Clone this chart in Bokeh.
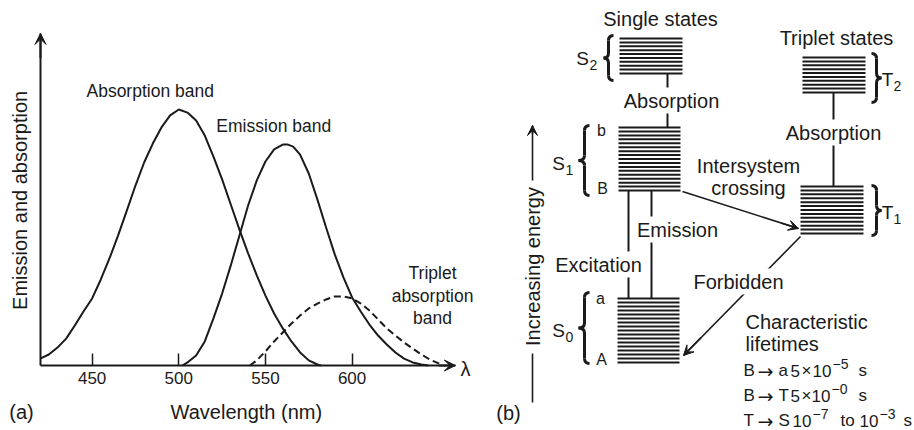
import numpy as np
from bokeh.plotting import figure
from bokeh.layouts import row
from bokeh.models import Range1d, Arrow, VeeHead, FixedTicker
from bokeh.core.properties import value
from bokeh.embed import file_html
from bokeh.resources import INLINE

# ---------------- data (panel a) ----------------
wl_absorption = [420, 425, 430, 435, 440, 445, 450, 455, 460, 465, 470, 475, 480, 485,
                 490, 495, 500, 505, 510, 515, 520, 525, 530, 535, 540, 545, 550, 555,
                 560, 565, 570, 575, 580, 582]
absorption = [2.7, 4.3, 7.0, 10.5, 15.6, 21.1, 26.2, 33.6, 41.8, 50.8, 60.5, 70.3, 79.3, 86.7,
              93.0, 97.7, 100.0, 98.8, 95.7, 89.8, 81.6, 72.7, 62.9, 53.1, 43.8, 35.2, 27.3, 20.3,
              14.5, 9.4, 5.1, 2.0, 0.4, 0.0]

wl_emission = [502, 505, 510, 515, 520, 525, 530, 535, 540, 545, 550, 555, 560, 563, 566,
               570, 575, 580, 585, 590, 595, 600, 605, 610, 615, 620, 625, 630, 635, 640, 644]
emission = [0.0, 1.2, 3.9, 9.4, 18.4, 28.1, 39.1, 50.8, 62.5, 72.3, 79.7, 84.4, 86.3, 86.3, 85.5,
            82.4, 75.0, 64.8, 53.9, 43.4, 34.4, 26.6, 21.1, 16.0, 11.7, 8.2, 5.1, 2.7, 1.2, 0.4, 0.0]

wl_triplet = [541, 545, 550, 555, 560, 565, 570, 575, 580, 585, 590, 595, 600, 605, 610,
              615, 620, 625, 630, 635, 640, 645, 650, 652]
triplet = [0.0, 2.0, 5.5, 9.4, 12.9, 16.4, 19.5, 22.3, 24.2, 25.8, 27.0, 27.0, 26.2, 24.2, 21.5,
           18.0, 14.5, 11.7, 9.0, 6.6, 4.3, 2.3, 0.8, 0.0]

x_ticks = [450, 500, 550, 600]

# ---------------- texts (panel b): characteristic lifetimes ----------------
lifetime_from = ["B", "B", "T"]
lifetime_to = ["a", "T", "S"]
lifetime_values = [["5", "\u00d7", "10", "\u22125", "s"],
                   ["5", "\u00d7", "10", "\u22120", "s"],
                   ["10", "\u22127", "to", "10", "\u22123", "s"]]

FONT = "Liberation Sans"
INK = "#1a1a1a"

# ================= panel (a) =================
PX_PER_NM = 1.733
PX_PER_UNIT = 2.56
AX0 = 420.2                      # wavelength where the axes cross
XL = AX0 - 40 / PX_PER_NM        # left edge of the panel
XR = AX0 + 440 / PX_PER_NM       # right edge of the panel
YB = -(430 - 365) / PX_PER_UNIT  # bottom edge of the panel
YT = 365 / PX_PER_UNIT           # top edge of the panel

p1 = figure(width=480, height=430, x_range=Range1d(XL, XR), y_range=Range1d(YB, YT),
            output_backend="svg", toolbar_location=None, min_border=0)
p1.outline_line_color = None
p1.grid.visible = False

xa = p1.xaxis[0]
xa.fixed_location = 0
xa.ticker = FixedTicker(ticks=x_ticks)
xa.minor_tick_line_color = None
xa.major_tick_in = 12
xa.major_tick_out = 0
xa.major_tick_line_width = 1.5
xa.major_tick_line_color = INK
xa.axis_line_width = 2
xa.axis_line_color = INK
xa.bounds = (AX0, 659.6)
xa.major_label_text_font = FONT
xa.major_label_text_font_size = "17px"
xa.major_label_text_color = INK
xa.major_label_standoff = 6

ya = p1.yaxis[0]
ya.fixed_location = AX0
ya.ticker = FixedTicker(ticks=[])
ya.minor_tick_line_color = None
ya.major_tick_line_color = None
ya.axis_line_width = 2
ya.axis_line_color = INK
ya.bounds = (0, 129.7)

p1.add_layout(Arrow(end=VeeHead(size=11, fill_color=INK, line_color=INK, line_width=1),
                    x_start=AX0, y_start=120, x_end=AX0, y_end=129.7,
                    line_color=INK, line_width=2))
p1.add_layout(Arrow(end=VeeHead(size=11, fill_color=INK, line_color=INK, line_width=1),
                    x_start=650, y_start=0, x_end=659.6, y_end=0,
                    line_color=INK, line_width=2))

p1.line(wl_absorption, absorption, line_width=2, line_color=INK)
p1.line(wl_emission, emission, line_width=2, line_color=INK)
p1.line(wl_triplet, triplet, line_width=2, line_color=INK, line_dash="7 4")

p1.text(x=[483.5, 554.8, 646.4, 646.4, 646.4], y=[107.4, 93.4, 36.1, 27.3, 18.6],
        text=["Absorption band", "Emission band", "Triplet", "absorption", "band"],
        text_font=value(FONT), text_font_size="17.5px", text_color=INK,
        text_align="center", text_baseline="middle")

# axis titles, panel tag and lambda
p1.text(x=[539.0, 409.2, 665.4], y=[-18.2, -18.0, -1.2],
        text=["Wavelength (nm)", "(a)", "\u03bb"],
        text_font=value(FONT), text_font_size="20px", text_color=INK,
        text_align="center", text_baseline="middle")
p1.text(x=[408.6], y=[64.5], text=["Emission and absorption"], angle=np.pi / 2,
        text_font=value(FONT), text_font_size="20px", text_color=INK,
        text_align="center", text_baseline="middle")

# ================= panel (b) =================
# frame covers page x 480..914, y 0..430; y grows downwards
p2 = figure(width=434, height=430, x_range=Range1d(480, 914), y_range=Range1d(430, 0),
            output_backend="svg", toolbar_location=None,
            x_axis_location=None, y_axis_location=None, min_border=0)
p2.outline_line_color = None
p2.grid.visible = False

# energy-level blocks: x_left, x_right, y_top, y_bottom, number of levels
blocks = [(619, 682, 38, 73, 10),    # S2
          (618, 680, 127, 190, 17),  # S1
          (617, 679, 298, 362, 17),  # S0
          (802, 865, 57, 92, 10),    # T2
          (800, 863, 186, 233, 13)]  # T1
for xl, xr, yt, yb, n in blocks:
    ys = np.linspace(yt, yb, n)
    p2.segment(x0=[xl] * n, y0=ys, x1=[xr] * n, y1=ys, line_width=2, line_color=INK)

# vertical transitions and energy axis line (gap for its label)
p2.segment(x0=[667, 833, 628, 651, 532], y0=[73, 92, 190, 190, 402],
           x1=[667, 833, 628, 651, 532], y1=[127, 186, 298, 298, 353],
           line_width=[2, 2, 2, 2, 1.6], line_color=INK)

# arrows (line as glyph, head as annotation)
arrows = [(682, 191, 798, 228), (800, 236, 683, 355), (532, 180, 532, 125)]
for xs, ys_, xe, ye in arrows:
    p2.segment(x0=[xs], y0=[ys_], x1=[xe], y1=[ye], line_width=1.6, line_color=INK)
    f = 0.85
    p2.add_layout(Arrow(end=VeeHead(size=10, fill_color=INK, line_color=INK, line_width=1),
                        x_start=xs + f * (xe - xs), y_start=ys_ + f * (ye - ys_),
                        x_end=xe, y_end=ye, line_color=INK, line_width=1.6))

# braces
def brace(xc, y0, y1, d):
    # d > 0: tip to the left "{", d < 0: tip to the right "}"
    r = 5
    w = 5 * (1 if d > 0 else -1)
    ym = (y0 + y1) / 2
    q = dict(line_width=3, line_color=INK)
    p2.quadratic(x0=[xc + w, xc, xc - d, xc], y0=[y0, ym - r, ym, y1 - r],
                 x1=[xc, xc - d, xc, xc + w], y1=[y0 + r, ym, ym + r, y1],
                 cx=[xc, xc, xc, xc], cy=[y0, ym, ym, y1], **q)
    p2.segment(x0=[xc, xc], y0=[y0 + r, ym + r], x1=[xc, xc], y1=[ym - r, y1 - r], **q)

brace(608, 35, 80, 5)
brace(584, 125, 195, 6)
brace(584, 292, 363, 6)
brace(876, 53, 102, -5)
brace(876, 185, 235, -5)

common = dict(text_font=value(FONT), text_color=INK, text_baseline="middle")

# state symbols and subscripts
p2.text(x=[582, 558, 558, 887, 887], y=[58, 163, 330, 79, 212],
        text=["S", "S", "S", "T", "T"], text_font_size="19px", text_align="center", **common)
p2.text(x=[589, 565, 565, 893, 893], y=[64, 169, 336, 85, 218],
        text=["2", "1", "0", "2", "1"], text_font_size="14px", text_align="left", **common)
p2.text(x=[601, 602, 600, 601], y=[130, 188, 298, 359], text=["b", "B", "a", "A"],
        text_font_size="16px", text_align="center", **common)

# plain labels
p2.text(x=[660, 836, 748, 748, 508], y=[18, 37, 165, 187, 412],
        text=["Single states", "Triplet states", "Intersystem", "crossing", "(b)"],
        text_font_size="20px", text_align="center", **common)

# labels that interrupt lines
p2.text(x=[671, 833, 677, 598, 738], y=[100, 132, 229, 264, 281],
        text=["Absorption", "Absorption", "Emission", "Excitation", "Forbidden"],
        text_font_size="20px", text_align="center", background_fill_color="white",
        padding=2, **common)
p2.text(x=[532], y=[266], text=["Increasing energy"], angle=np.pi / 2,
        text_font_size="20px", text_align="center", **common)

p2.text(x=[745, 745], y=[321, 343], text=["Characteristic", "lifetimes"],
        text_font_size="20px", text_align="left", **common)

# characteristic lifetimes: pieces placed left to right, exponents raised
line_y = [370, 395, 420]
piece_x = [[790, 801, 812, 832, 858],
           [790, 801, 811, 831, 858],
           [792, 812, 840, 859, 879, 903]]
for i in range(3):
    y = line_y[i]
    p2.text(x=[743, 778], y=[y, y], text=[lifetime_from[i], lifetime_to[i]],
            text_font_size="17px", text_align="left", **common)
    p2.text(x=[757], y=[y], text=["\u2192"], text_font=value("DejaVu Sans"),
            text_font_size="19px", text_color=INK, text_align="left", text_baseline="middle")
    for j, piece in enumerate(lifetime_values[i]):
        sup = piece.startswith("\u2212")
        p2.text(x=[piece_x[i][j]], y=[y - 7 if sup else y], text=[piece],
                text_font_size="14px" if sup else "17px", text_align="left", **common)

layout = row(p1, p2)
open("out.html", "w").write(file_html(layout, INLINE))
